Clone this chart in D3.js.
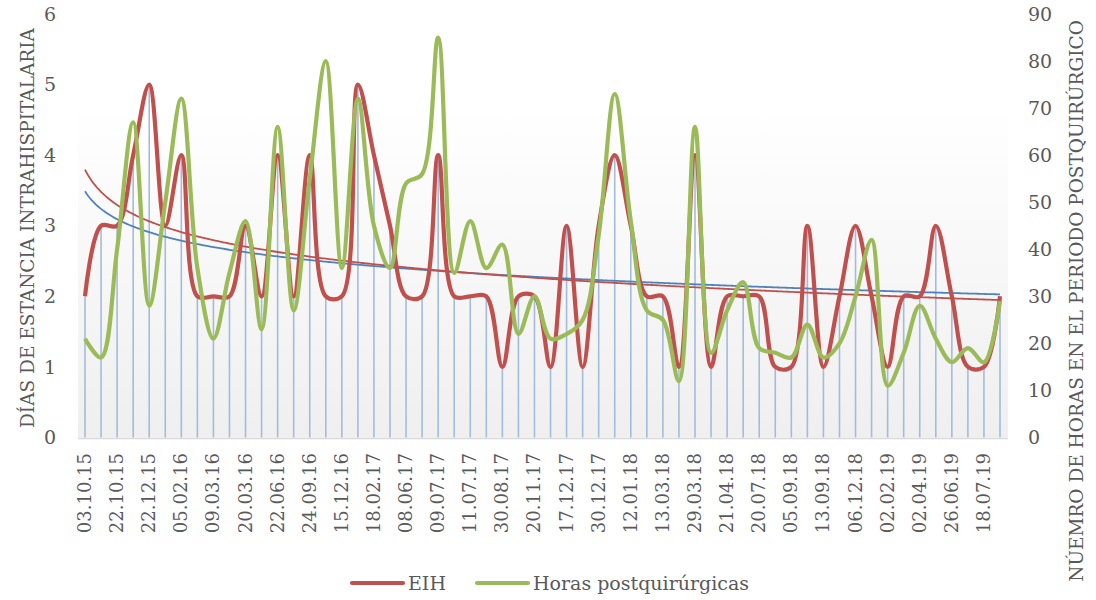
<!DOCTYPE html>
<html>
<head>
<meta charset="utf-8">
<script src="https://cdn.jsdelivr.net/npm/d3@7"></script>
<style>
  html, body { margin: 0; padding: 0; background: #fff; }
  svg { display: block; }
  text { font-family: "DejaVu Serif", "Liberation Serif", serif; fill: #595959; }
</style>
</head>
<body>
<svg id="chart" width="1096" height="600"></svg>
<script>
// ---- data ----
const tickLabels = ["03.10.15","22.10.15","22.12.15","05.02.16","09.03.16","20.03.16","22.06.16","24.09.16","15.12.16","18.02.17","08.06.17","09.07.17","11.07.17","30.08.17","20.11.17","17.12.17","30.12.17","12.01.18","13.03.18","29.03.18","21.04.18","20.07.18","05.09.18","13.09.18","06.12.18","02.02.19","02.04.19","26.06.19","18.07.19"];
const eih = [2,3,3,4,5,3,4,2,2,2,3,2,4,2,
             4,2,2,5,4,3,2,2,4,2,2,2,1,2,2,
             1,3,1,3,4,3,2,2,1,4,1,2,2,2,1,
             1,3,1,2,3,2,1,2,2,3,2,1,1,2];
const horas = [21,17,40,67,28,50,72,36,21,35,46,23,66,27,
               55,80,36,72,45,36,54,56,85,35,46,36,41,22,30,
               21,22,25,43,73,46,27,25,12,66,18,27,33,19,18,
               17,24,17,20,30,42,11,18,28,21,16,19,16,29];
const leftTicks = [0,1,2,3,4,5,6];
const rightTicks = [0,10,20,30,40,50,60,70,80,90];
const categories = eih.map((d, i) => i);

// ---- layout ----
const svg = d3.select("#chart");
const x = d3.scalePoint().domain(categories).range([85, 1000]);
const yL = d3.scaleLinear().domain([0, 6]).range([437.5, 14]);
const yR = d3.scaleLinear().domain([0, 90]).range([437.5, 14]);

// background gradient
const defs = svg.append("defs");
const grad = defs.append("linearGradient").attr("id", "bg").attr("x1", 0).attr("y1", 0).attr("x2", 0).attr("y2", 1);
grad.append("stop").attr("offset", "0%").attr("stop-color", "#ffffff");
grad.append("stop").attr("offset", "100%").attr("stop-color", "#efefef");
svg.append("rect").attr("x", 78).attr("y", 104).attr("width", 930).attr("height", 437.5 - 104)
  .attr("fill", "url(#bg)");

// baseline
svg.append("line").attr("x1", 78).attr("x2", 1008).attr("y1", 438.5).attr("y2", 438.5)
  .attr("stroke", "#d9d9d9").attr("stroke-width", 1.5);

// drop lines
svg.append("g").selectAll("line").data(eih).join("line")
  .attr("x1", (d, i) => x(i)).attr("x2", (d, i) => x(i))
  .attr("y1", yL(0)).attr("y2", d => yL(d))
  .attr("stroke", "#a3bcdc").attr("stroke-width", 1.6);

// left axis
const gL = svg.append("g").attr("transform", "translate(56,0)")
  .call(d3.axisLeft(yL).tickValues(leftTicks).tickSize(0).tickPadding(0).tickFormat(d3.format("d")));
gL.select(".domain").remove();
gL.selectAll("text").style("font-size", "19px").attr("fill", "#595959").attr("font-family", "DejaVu Serif");

// right axis
const gR = svg.append("g").attr("transform", "translate(1028,0)")
  .call(d3.axisRight(yR).tickValues(rightTicks).tickSize(0).tickPadding(0).tickFormat(d3.format("d")));
gR.select(".domain").remove();
gR.selectAll("text").style("font-size", "19px").attr("fill", "#595959").attr("font-family", "DejaVu Serif");

// x axis labels (every other category)
svg.append("g").selectAll("text").data(tickLabels).join("text")
  .attr("transform", (d, i) => `translate(${x(i * 2) + 6},453) rotate(-90)`)
  .attr("text-anchor", "end")
  .style("font-size", "18px")
  .text(d => d);

// axis titles
svg.append("text").attr("transform", "translate(28,228) rotate(-90)")
  .attr("text-anchor", "middle").attr("dy", "0.35em").style("font-size", "18.5px")
  .text("DÍAS DE ESTANCIA INTRAHISPITALARIA");
svg.append("text").attr("transform", "translate(1077,301) rotate(-90)")
  .attr("text-anchor", "middle").attr("dy", "0.35em").style("font-size", "18.5px")
  .text("NÚEMRO DE HORAS EN EL PERIODO POSTQUIRÚRGICO");

// logarithmic trend lines (least squares on ln(k))
function logFit(vals) {
  const xs = vals.map((d, i) => Math.log(i + 1));
  const mx = d3.mean(xs), my = d3.mean(vals);
  let sxy = 0, sxx = 0;
  xs.forEach((xv, i) => { sxy += (xv - mx) * (vals[i] - my); sxx += (xv - mx) * (xv - mx); });
  const b = sxy / sxx, a = my - b * mx;
  return k => a + b * Math.log(k);
}
const fE = logFit(eih);
const fH = logFit(horas);
const trendSteps = d3.range(0, eih.length - 1 + 0.001, 0.1);
const xC = d3.scaleLinear().domain([0, eih.length - 1]).range([85, 1000]);
svg.append("path").datum(trendSteps)
  .attr("fill", "none").attr("stroke", "#4f81bd").attr("stroke-width", 1.8)
  .attr("d", d3.line().x(t => xC(t)).y(t => yR(fH(t + 1))));
svg.append("path").datum(trendSteps)
  .attr("fill", "none").attr("stroke", "#c0504d").attr("stroke-width", 1.8)
  .attr("d", d3.line().x(t => xC(t)).y(t => yL(fE(t + 1))));

// series lines
const curve = d3.curveCatmullRom.alpha(0.5);
svg.append("path").datum(eih)
  .attr("fill", "none").attr("stroke", "#c0504d").attr("stroke-width", 4.2).attr("stroke-linejoin", "round")
  .attr("d", d3.line().x((d, i) => x(i)).y(d => yL(d)).curve(curve));
svg.append("path").datum(horas)
  .attr("fill", "none").attr("stroke", "#9bbb59").attr("stroke-width", 4.2).attr("stroke-linejoin", "round")
  .attr("d", d3.line().x((d, i) => x(i)).y(d => yR(d)).curve(curve));

// legend
const legend = [{name: "EIH", color: "#c0504d", x: 352}, {name: "Horas postquirúrgicas", color: "#9bbb59", x: 477}];
const lg = svg.append("g").selectAll("g").data(legend).join("g")
  .attr("transform", d => `translate(${d.x},583)`);
lg.append("line").attr("x1", 0).attr("x2", 51).attr("stroke", d => d.color)
  .attr("stroke-width", 4.2).attr("stroke-linecap", "round");
lg.append("text").attr("x", 56).attr("dy", "0.35em").style("font-size", "19px").text(d => d.name);
</script>
</body>
</html>
